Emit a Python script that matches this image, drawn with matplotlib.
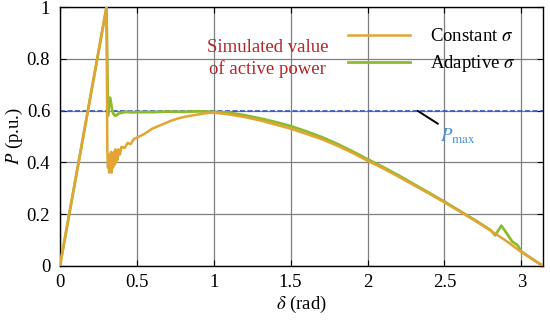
import matplotlib
matplotlib.use("Agg")
import matplotlib.pyplot as plt

plt.rcParams['font.family'] = ['Liberation Serif', 'DejaVu Serif']
plt.rcParams['mathtext.fontset'] = 'stix'

# Constant sigma
const_d = [0, 0.303, 0.308, 0.312, 0.316, 0.320, 0.324, 0.328, 0.332, 0.336, 0.340, 0.345,
           0.350, 0.355, 0.360, 0.365, 0.370, 0.375, 0.380, 0.390, 0.400, 0.420, 0.440, 0.460,
           0.480, 0.500, 0.550, 0.600, 0.660, 0.720, 0.770, 0.830, 0.880, 0.950, 1.000,
           1.1, 1.2, 1.3, 1.4, 1.5, 1.6, 1.7, 1.8, 1.9, 2.0, 2.1, 2.2, 2.3, 2.4, 2.5,
           2.6, 2.7, 2.8, 2.9, 3.0, 3.1, 3.14]
const_p = [0, 1.0, 0.45, 0.38, 0.43, 0.36, 0.42, 0.37, 0.44, 0.36, 0.43, 0.38,
           0.44, 0.39, 0.45, 0.40, 0.44, 0.41, 0.45, 0.43, 0.46, 0.455, 0.475, 0.47,
           0.49, 0.495, 0.51, 0.53, 0.545, 0.56, 0.57, 0.578, 0.583, 0.59, 0.592,
           0.585, 0.575, 0.562, 0.546, 0.53, 0.51, 0.49, 0.465, 0.437, 0.406, 0.377, 0.345,
           0.312, 0.279, 0.245, 0.21, 0.174, 0.136, 0.097, 0.053, 0.015, 0.0]

# Adaptive sigma
adapt_d = [0, 0.303, 0.312, 0.318, 0.325, 0.332, 0.340, 0.350, 0.360, 0.370, 0.380, 0.400,
           0.430, 0.470, 0.500, 0.600, 0.700, 0.800, 0.900, 1.000,
           1.1, 1.2, 1.3, 1.4, 1.5, 1.6, 1.7, 1.8, 1.9, 2.0, 2.1, 2.2, 2.3, 2.4, 2.5,
           2.6, 2.7, 2.8, 2.83, 2.87, 2.9, 2.94, 2.975, 3.0, 3.05, 3.1, 3.14]
adapt_p = [0, 1.0, 0.58, 0.62, 0.65, 0.63, 0.60, 0.585, 0.58, 0.583, 0.588, 0.592,
           0.595, 0.593, 0.594, 0.594, 0.596, 0.595, 0.597, 0.595,
           0.592, 0.582, 0.57, 0.556, 0.54, 0.52, 0.498, 0.472, 0.443, 0.412, 0.382, 0.35,
           0.316, 0.282, 0.248, 0.212, 0.176, 0.138, 0.118, 0.155, 0.13, 0.094, 0.08,
           0.055, 0.035, 0.015, 0.0]

pmax = 0.6
xticks = [0, 0.5, 1, 1.5, 2, 2.5, 3]
xticklabels = ['0', '0.5', '1', '1.5', '2', '2.5', '3']
yticks = [0, 0.2, 0.4, 0.6, 0.8, 1.0]
yticklabels = ['0', '0.2', '0.4', '0.6', '0.8', '1']

fs = 13.5
fig = plt.figure(figsize=(5.5, 3.21), dpi=100)
ax = fig.add_axes([0.109, 0.172, 0.878, 0.806])

c_const = '#E2A433'
c_adapt = '#8DBB2C'

ax.plot(adapt_d, adapt_p, color=c_adapt, lw=2.0, label=r'Adaptive $\sigma$', zorder=3)
ax.plot(const_d, const_p, color=c_const, lw=1.8, label=r'Constant $\sigma$', zorder=4)
ax.axhline(pmax, color='#3355CC', lw=1.2, ls=(0, (3, 1.5)), zorder=2)

ax.set_xlim(0, 3.14)
ax.set_ylim(0, 1)
ax.set_xticks(xticks)
ax.set_xticklabels(xticklabels)
ax.set_yticks(yticks)
ax.set_yticklabels(yticklabels)
ax.grid(True, color='#7f7f7f', lw=0.9)
ax.set_axisbelow(True)
ax.tick_params(direction='in', top=True, right=True, labelsize=fs, length=4)
ax.tick_params(axis='y', pad=7)
ax.tick_params(axis='x', pad=6)
for s in ax.spines.values():
    s.set_linewidth(1.0)

ax.set_xlabel(r'$\delta$ (rad)', fontsize=fs, labelpad=2)
ax.set_ylabel(r'$P$ (p.u.)', fontsize=fs, labelpad=1)

ax.text(1.35, 0.80, 'Simulated value\nof active power', color='#B3262A', fontsize=fs,
        ha='center', va='center', linespacing=1.3)

ax.annotate(r'$P_{\mathrm{max}}$', xy=(2.326, 0.599), xytext=(2.47, 0.50),
            color='#4A90D9', fontsize=fs, ha='left', va='center',
            arrowprops=dict(arrowstyle='-', color='black', lw=1.4, shrinkA=0, shrinkB=0))

h, l = ax.get_legend_handles_labels()
leg = ax.legend([h[1], h[0]], [l[1], l[0]], loc='upper left', bbox_to_anchor=(0.596, 0.918),
                frameon=False, fontsize=fs, handlelength=3.3, handletextpad=1.1,
                borderpad=0, borderaxespad=0, labelspacing=0.42)

fig.savefig('out.png', dpi=100)
